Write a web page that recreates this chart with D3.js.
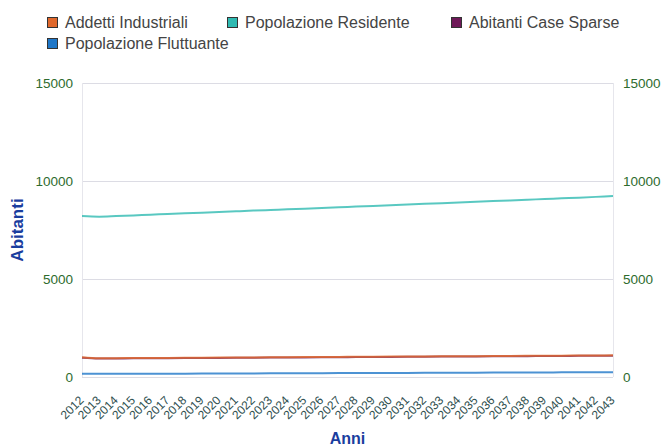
<!DOCTYPE html>
<html><head><meta charset="utf-8">
<script src="https://cdn.jsdelivr.net/npm/d3@7"></script>
<style>body{margin:0;background:#fff;font-family:"Liberation Sans",Arial,sans-serif;}</style>
</head><body><svg id="c" width="664" height="447"></svg>
<script>
const years = ["2012","2013","2014","2015","2016","2017","2018","2019","2020","2021","2022","2023","2024","2025","2026","2027","2028","2029","2030","2031","2032","2033","2034","2035","2036","2037","2038","2039","2040","2041","2042","2043"];
const residente = [8210,8180,8210,8245,8280,8315,8350,8385,8420,8455,8490,8520,8555,8590,8625,8660,8695,8730,8765,8800,8835,8870,8905,8940,8975,9010,9045,9080,9115,9150,9190,9230];
const addetti = [1010,960,962,966,970,975,980,985,990,995,1000,1005,1010,1015,1020,1025,1030,1035,1040,1045,1050,1055,1060,1065,1070,1075,1080,1085,1090,1095,1100,1105];
const caseSparse = [985,945,947,951,955,960,965,970,975,980,985,990,995,1000,1005,1010,1015,1020,1025,1030,1035,1040,1045,1050,1055,1060,1065,1070,1075,1080,1085,1090];
const fluttuante = [165,162,164,166,168,170,172,175,178,180,183,186,189,192,195,198,201,204,207,210,213,216,219,222,225,228,231,234,237,240,243,246];
const yTicks = [0,5000,10000,15000];
const seriesNames = ["Addetti Industriali","Popolazione Residente","Abitanti Case Sparse","Popolazione Fluttuante"];
const colors = ["#e0682c","#2fbab2","#6e1858","#1f77c8"];

const svg = d3.select("#c");
const L=82,R=613,T=83,B=377;
const x = d3.scalePoint().domain(years).range([L,R]);
const y = d3.scaleLinear().domain([0,15000]).range([B,T]);

svg.append("g").selectAll("line").data(yTicks).join("line")
 .attr("x1",L).attr("x2",R).attr("y1",d=>y(d)+0.5).attr("y2",d=>y(d)+0.5)
 .attr("stroke","#dcdce4").attr("stroke-width",1);
svg.append("line").attr("x1",L+0.5).attr("x2",L+0.5).attr("y1",T).attr("y2",B).attr("stroke","#e6e6ec");
svg.append("line").attr("x1",R+0.5).attr("x2",R+0.5).attr("y1",T).attr("y2",B).attr("stroke","#e6e6ec");

const yl = svg.append("g").attr("transform",`translate(${L},0)`).call(d3.axisLeft(y).tickValues(yTicks).tickSize(0).tickPadding(9).tickFormat(d3.format("d")));
const yr = svg.append("g").attr("transform",`translate(${R},0)`).call(d3.axisRight(y).tickValues(yTicks).tickSize(0).tickPadding(10).tickFormat(d3.format("d")));
[yl,yr].forEach(g=>{g.select(".domain").remove();g.selectAll("text").attr("fill","#2e6b2e").style("font-size","13.5px").style("font-family","Liberation Sans, Arial, sans-serif");});

const xa = svg.append("g").attr("transform",`translate(0,${B})`).call(d3.axisBottom(x).tickSize(0).tickPadding(0));
xa.select(".domain").remove();
xa.selectAll("text").attr("fill","#2f4f4f").style("font-size","12px").style("font-family","Liberation Sans, Arial, sans-serif")
 .attr("text-anchor","end").attr("dy",null).attr("y",0)
 .attr("transform","translate(2,24) rotate(-45)");

const data = [addetti,residente,caseSparse,fluttuante];
const line = d3.line().x((d,i)=>x(years[i])).y(d=>y(d)).curve(d3.curveMonotoneX);
[1,2,0,3].forEach(k=>{
 svg.append("path").attr("d",line(data[k])).attr("fill","none").attr("stroke",colors[k]).attr("stroke-width",2).attr("stroke-opacity",0.8);
});

svg.append("text").attr("transform","translate(23,230) rotate(-90)").attr("text-anchor","middle")
 .attr("fill","#1a3d9e").style("font-weight","bold").style("font-size","17px").text("Abitanti");
svg.append("text").attr("x",(L+R)/2).attr("y",444).attr("text-anchor","middle")
 .attr("fill","#1a3d9e").style("font-weight","bold").style("font-size","16px").text("Anni");

const legPos = [[47,22.5],[227,22.5],[451,22.5],[47,43.5]];
seriesNames.forEach((n,i)=>{
 const g = svg.append("g").attr("transform",`translate(${legPos[i][0]},${legPos[i][1]})`);
 g.append("rect").attr("x",0.5).attr("y",-5).attr("width",10).attr("height",10).attr("fill",colors[i]).attr("stroke","#333").attr("stroke-width",1);
 g.append("text").attr("x",18).attr("y",5.5).attr("fill","#444").style("font-size","16px").text(n);
});
</script></body></html>
